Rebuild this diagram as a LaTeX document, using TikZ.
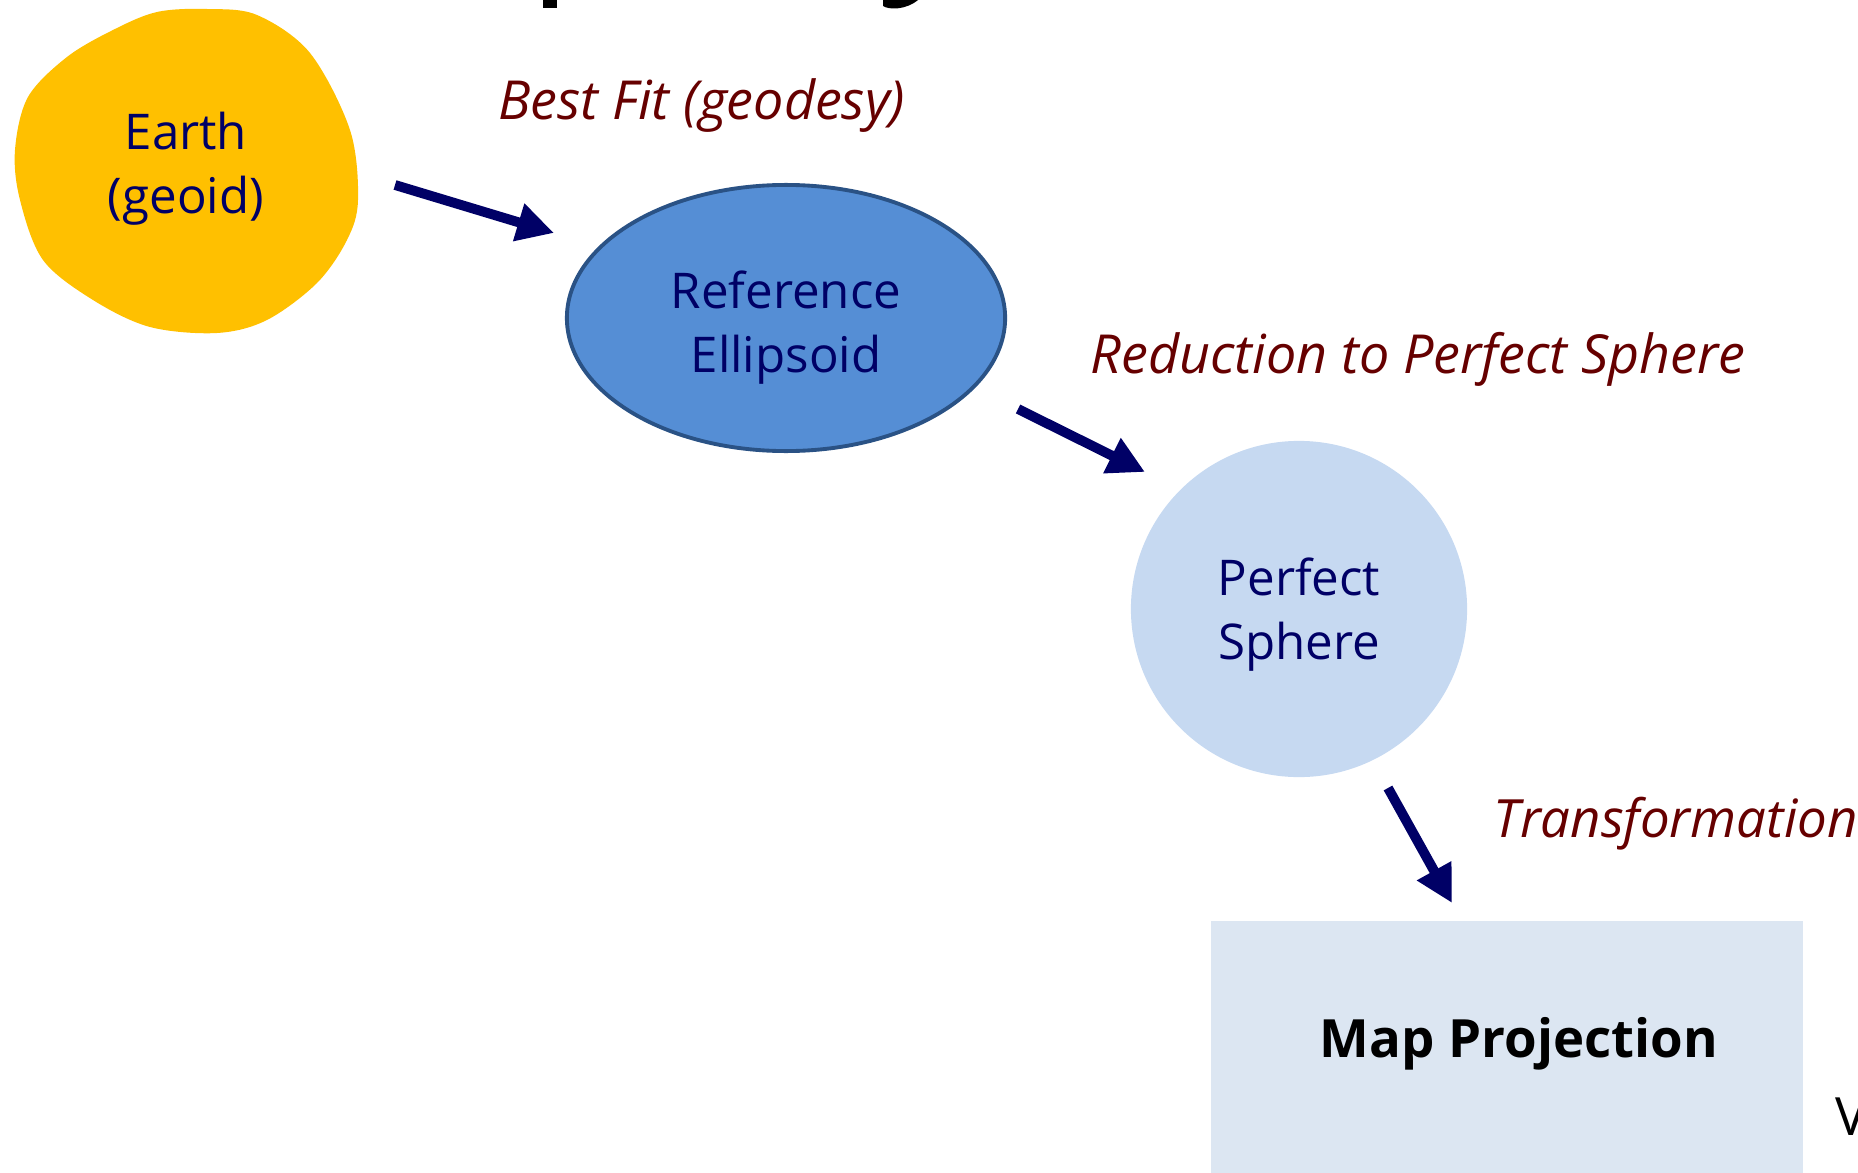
\documentclass[tikz,border=0pt]{standalone}
\usepackage{fontspec}
\setmainfont{Open Sans}
\usetikzlibrary{shapes.geometric,arrows.meta}

\definecolor{earthyellow}{HTML}{FFC000}
\definecolor{ellfill}{HTML}{558ED5}
\definecolor{elldraw}{HTML}{2A5285}
\definecolor{spherefill}{HTML}{C6D9F1}
\definecolor{mapfill}{HTML}{DCE6F2}
\definecolor{navytext}{HTML}{000066}
\definecolor{labelred}{HTML}{660000}

\begin{document}
\begin{tikzpicture}[x=0.01cm, y=-0.01cm,
    every node/.style={font=\fontsize{14}{18.2}\selectfont, text=navytext, align=center},
    steplabel/.style={font=\fontsize{15.3}{18}\selectfont\itshape, text=labelred, inner sep=0pt},
    flowarrow/.style={line width=2.8pt, draw=navytext, -{Triangle[length=10.5pt,width=10.5pt]}}]
      \useasboundingbox (0,0) rectangle (1858,1173);
      \clip (0,0) rectangle (1858,1173);

      % Bits of the title cut off at the top
      \fill[black] (543,0) rectangle (557,8);
      \fill[black] (883,0) -- (883,6) .. controls (889,10) and (906,10) .. (918,0) -- cycle;

      % Earth (geoid) blob
      \fill[earthyellow] plot[smooth cycle, tension=0.55] coordinates {
        (157,12) (207,9) (257,15) (310,53) (350,130) (358,200) (347,240) (317,283)
        (267,320) (217,333) (150,327) (93,300) (43,260) (20,200) (15,150) (28,97)
        (67,57) (113,30)};
      \node (earth) at (186,169) {Earth\\(geoid)};

      % Reference ellipsoid
      \node[ellipse, fill=ellfill, draw=elldraw, line width=1.1pt, inner sep=0pt,
            minimum width=4.38cm, minimum height=2.66cm,
            label={[yshift=-0.1cm]center:{Reference\\Ellipsoid}}] (ellipsoid) at (786,318) {};

      % Perfect sphere
      \node[circle, fill=spherefill, inner sep=0pt, minimum size=3.36cm,
            label={[yshift=-0.06cm]center:{Perfect\\Sphere}}] (sphere) at (1299,609) {};

      % Map projection box, runs off the bottom
      \node[fill=mapfill, inner sep=0pt, minimum width=5.92cm, minimum height=2.52cm,
            label={[xshift=0.12cm, yshift=0.03cm, font=\fontsize{15}{18}\selectfont\bfseries, text=black]center:Map Projection}]
            (map) at (1507,1047) {};

      % Cut off word at the right
      \node[anchor=base west, inner sep=0pt, font=\fontsize{15}{18}\selectfont, text=black] (cut) at (1835,1135) {V};

      % Step labels
      \node[steplabel, anchor=base west] (fit) at (498,120) {Best Fit (geodesy)};
      \node[steplabel, anchor=base west] (reduce) at (1090,373) {Reduction to Perfect Sphere};
      \node[steplabel, anchor=base west, font=\fontsize{15}{18}\selectfont\itshape] (transform) at (1493,837) {Transformation};

      % Arrows
      \coordinate (earth-out) at (395,185);
      \coordinate (ellipsoid-in) at (554,233);
      \coordinate (ellipsoid-out) at (1018,409);
      \coordinate (sphere-in) at (1145,472);
      \coordinate (sphere-out) at (1388,788);
      \coordinate (map-in) at (1452,903);
      \draw[flowarrow] (earth-out) -- (ellipsoid-in);
      \draw[flowarrow] (ellipsoid-out) -- (sphere-in);
      \draw[flowarrow] (sphere-out) -- (map-in);
    \end{tikzpicture}
\end{document}
